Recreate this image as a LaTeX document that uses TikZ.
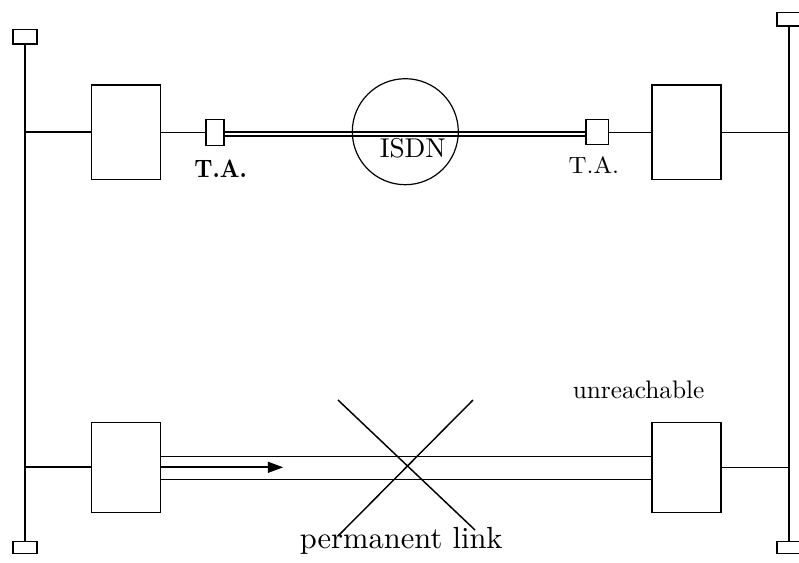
\documentclass[tikz,border=0pt]{standalone}
\usepackage{graphicx}
\usetikzlibrary{arrows.meta,calc}
\begin{document}
\begin{tikzpicture}[x=0.75pt,y=-0.75pt,
  thinline/.style={line width=0.9pt},
  thickline/.style={line width=1.6pt},
  boxnode/.style={draw,line width=0.9pt,rectangle,inner sep=0pt,minimum width=51.75pt},
  term/.style={draw,line width=0.9pt,rectangle,inner sep=0pt,minimum width=18pt},
  label/.style={inner sep=0pt,anchor=base west}]
\useasboundingbox (0,0) rectangle (799,562);
% terminators
\node[term,minimum height=11pt] (tl) at (25,36.7) {};
\node[term,minimum height=8.6pt] (bl) at (25,547.5) {};
\node[term,minimum height=10pt] (tr) at (789,19.3) {};
\node[term,minimum height=8.7pt] (br) at (789,547.5) {};
% hosts
\node[boxnode,minimum height=70.7pt] (hTL) at (126.2,132.2) {};
\node[boxnode,minimum height=70.7pt] (hTR) at (686.4,132.2) {};
\node[boxnode,minimum height=67.5pt] (hBL) at (126.2,467.3) {};
\node[boxnode,minimum height=67.5pt] (hBR) at (686.5,467.3) {};
% terminal adapters
\node[draw,line width=0.9pt,inner sep=0pt,minimum width=13.5pt,minimum height=19.5pt] (taL) at (215,132.2) {};
\node[draw,line width=0.9pt,inner sep=0pt,minimum width=17pt,minimum height=18.5pt] (taR) at (597.3,132.2) {};
% ISDN cloud
\node[draw,circle,line width=0.9pt,inner sep=0pt,minimum size=79.5pt] (isdn) at (405.3,131.7) {};
% junctions
\coordinate (lj1) at (25,132.2);
\coordinate (lj2) at (25,467.3);
\coordinate (rj1) at (789,132.2);
\coordinate (rj2) at (789,467.3);
% left bus
\draw[thinline] (tl.south) -- (lj1);
\draw[thinline] (lj2) -- (bl.north);
\draw[thickline] (lj1) -- (hTL.west);
\draw[thickline] (lj1) -- (lj2);
\draw[thickline] (lj2) -- (hBL.west);
% right bus
\draw[thinline] (tr.south) -- (br.north);
\draw[thinline] (hTR.east) -- (rj1);
\draw[thinline] (hBR.east) -- (rj2);
% ISDN path
\draw[thinline] (hTL.east) -- (taL.west);
\draw[thinline] (taR.east) -- (hTR.west);
\draw[line width=1.4pt] ([yshift=0.2pt]taL.east) -- ([yshift=0.2pt]taL.east -| taR.west);
\draw[line width=1.4pt] ([yshift=-2.8pt]taL.east) -- ([yshift=-2.8pt]taL.east -| taR.west);
% permanent link
\draw[thinline] ([yshift=8.3pt]hBL.east) -- ([yshift=8.3pt]hBR.west);
\draw[thinline] ([yshift=-8.9pt]hBL.east) -- ([yshift=-8.9pt]hBR.west);
\coordinate (arr) at (283.3,467.3);
\draw[thickline,-{Triangle[length=11.5pt,width=8pt]}] (hBL.east) -- (arr);
% cross
\coordinate (c1) at (338,400);
\coordinate (c2) at (475,530);
\coordinate (c3) at (473,400);
\coordinate (c4) at (338,536);
\draw[line width=1.1pt] (c1) -- (c2);
\draw[line width=1.1pt] (c3) -- (c4);
% labels
\node[label] (lisdn) at (379.5,157.3) {\scalebox{2.04}{ISDN}};
\node[label] (ltaL) at (194,177.3) {\scalebox{1.71}[1.89]{\bfseries T.A.}};
\node[label] (ltaR) at (568.3,173.3) {\scalebox{1.87}[1.76]{T.A.}};
\node[label] (lun) at (572.5,398) {\scalebox{1.9}{unreachable}};
\node[label] (lperm) at (299.5,548.3) {\scalebox{2.29}{permanent link}};
\end{tikzpicture}
\end{document}
